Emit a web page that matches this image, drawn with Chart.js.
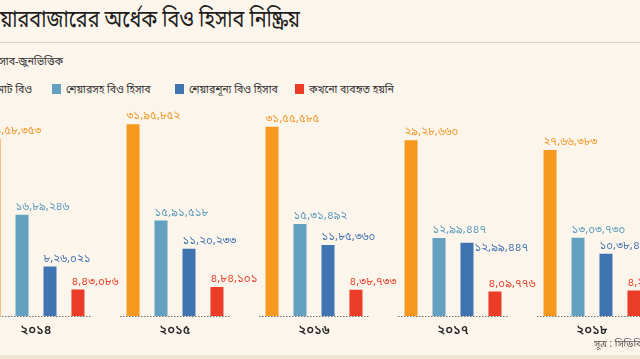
<!DOCTYPE html>
<html>
<head>
<meta charset="utf-8">
<script src="https://cdn.jsdelivr.net/npm/chart.js@4.4.1/dist/chart.umd.min.js"></script>
<style>
  html, body { margin: 0; padding: 0; }
  body { width: 640px; height: 359px; overflow: hidden; position: relative; background: #fcf5eb;
         font-family: "Noto Sans Bengali", "Lohit Bengali", "Noto Sans", sans-serif; color: #222; }
  .abs { position: absolute; white-space: nowrap; }
  #title { top: 6px; right: 340px; font-size: 19.8px; line-height: 30px; color: #1e1e1e;
           transform: scaleY(1.18); transform-origin: 50% 50%; }
  #rule { top: 42px; left: 0; width: 640px; height: 1px; background: #d8d2c8; }
  #sub { top: 54px; right: 577px; font-size: 10.6px; line-height: 16px; color: #333; }
  .leg { top: 82px; font-size: 10.5px; line-height: 16px; color: #333; }
  .sw { display: inline-block; width: 9px; height: 10px; vertical-align: -1px; margin-right: 5px; }
  #src { top: 338px; left: 594px; font-size: 10px; line-height: 14px; color: #555; }
  #strip { top: 355px; left: 0; width: 640px; height: 4px; background: #f2e5d2; }
  #wrap { position: absolute; left: -40px; top: 0; width: 710px; height: 359px; }
</style>
</head>
<body>
<div id="title" class="abs">শেয়ারবাজারের অর্ধেক বিও হিসাব নিষ্ক্রিয়</div>
<div id="rule" class="abs"></div>
<div id="sub" class="abs">বিও হিসাব-জুনভিত্তিক</div>
<div id="legend"></div>
<div id="wrap"><canvas id="c" width="710" height="359"></canvas></div>
<div id="src" class="abs">সূত্র : সিডিবিএল</div>
<div id="strip" class="abs"></div>
<script>
const years = ['২০১৪', '২০১৫', '২০১৬', '২০১৭', '২০১৮'];
const seriesNames = ['মোট বিও', 'শেয়ারসহ বিও হিসাব', 'শেয়ারশূন্য বিও হিসাব', 'কখনো ব্যবহৃত হয়নি'];
const totalBO = [2958353, 3195852, 3155585, 2928660, 2766383];
const withShares = [1689246, 1591518, 1531492, 1299447, 1303730];
const withoutShares = [826021, 1120233, 1185360, 1219437, 1038480];
const withoutSharesPrinted = [826021, 1120233, 1185360, 1299447, 1038480];
const neverUsed = [443086, 484101, 438733, 409776, 424173];

const barColors = ['#f7981f', '#64a0bf', '#3f73b2', '#ea3c26'];
const labelColors = ['#f29a2e', '#5f9cbd', '#4776b0', '#e8422d'];

function bn(n) {
  const s = String(n);
  const last3 = s.slice(-3);
  let rest = s.slice(0, -3);
  if (rest) rest = rest.replace(/\B(?=(\d{2})+(?!\d))/g, ',');
  const r = rest ? rest + ',' + last3 : last3;
  return r.replace(/\d/g, d => '০১২৩৪৫৬৭৮৯'[d]);
}

// HTML legend built from series names and colours
const legendPos = [{right: 608}, {left: 52}, {left: 175}, {left: 295}];
const legend = document.getElementById('legend');
seriesNames.forEach((name, i) => {
  const d = document.createElement('div');
  d.className = 'abs leg';
  if (legendPos[i].right !== undefined) d.style.right = legendPos[i].right + 'px';
  else d.style.left = legendPos[i].left + 'px';
  d.innerHTML = '<span class="sw" style="background:' + barColors[i] + '"></span>' + name;
  legend.appendChild(d);
});

const printed = [totalBO, withShares, withoutSharesPrinted, neverUsed];
const BN_FONT = '"Noto Sans Bengali", "Lohit Bengali", "Noto Sans", sans-serif';

const decor = {
  id: 'decor',
  afterDatasetsDraw(chart) {
    const ctx = chart.ctx;
    const xs = chart.scales.x;
    const bottom = chart.chartArea.bottom;
    ctx.save();
    // dotted baseline per group
    ctx.strokeStyle = '#6f6f6f';
    ctx.lineWidth = 1;
    ctx.setLineDash([1.5, 1.5]);
    years.forEach((y, i) => {
      const cx = xs.getPixelForValue(i);
      ctx.beginPath();
      ctx.moveTo(cx - 55, bottom + 0.5);
      ctx.lineTo(cx + 55, bottom + 0.5);
      ctx.stroke();
    });
    ctx.setLineDash([]);
    // value labels
    ctx.font = '11.5px ' + BN_FONT;
    ctx.textAlign = 'left';
    ctx.textBaseline = 'middle';
    years.forEach((y, i) => {
      let prevY = null;
      chart.data.datasets.forEach((ds, di) => {
        const bar = chart.getDatasetMeta(di).data[i];
        let lx = bar.x - bar.width / 2;
        let ly = bar.y - 7;
        if (prevY !== null && Math.abs(ly - prevY) < 12) {
          lx = bar.x + bar.width / 2 + 1;
          ly = bar.y + 6;
        }
        ctx.fillStyle = labelColors[di];
        ctx.fillText(bn(printed[di][i]), lx, ly);
        prevY = ly;
      });
    });
    ctx.restore();
  }
};

new Chart(document.getElementById('c'), {
  type: 'bar',
  data: {
    labels: years,
    datasets: [
      { label: seriesNames[0], data: totalBO, backgroundColor: barColors[0] },
      { label: seriesNames[1], data: withShares, backgroundColor: barColors[1] },
      { label: seriesNames[2], data: withoutShares, backgroundColor: barColors[2] },
      { label: seriesNames[3], data: neverUsed, backgroundColor: barColors[3] }
    ]
  },
  options: {
    responsive: false,
    devicePixelRatio: 1,
    animation: false,
    layout: { padding: { left: 6.5, right: 8.5, top: 106, bottom: 19 } },
    datasets: { bar: { categoryPercentage: 0.805, barPercentage: 0.465 } },
    plugins: { legend: { display: false }, tooltip: { enabled: false } },
    scales: {
      x: {
        grid: { display: false, drawTicks: false },
        border: { display: false },
        ticks: { color: '#2a2a2a', padding: 8, font: { size: 13, weight: '600', family: BN_FONT } },
        afterFit: s => { s.height = 24; }
      },
      y: { display: false, min: 0, max: 3500000 }
    }
  },
  plugins: [decor]
});
</script>
</body>
</html>
